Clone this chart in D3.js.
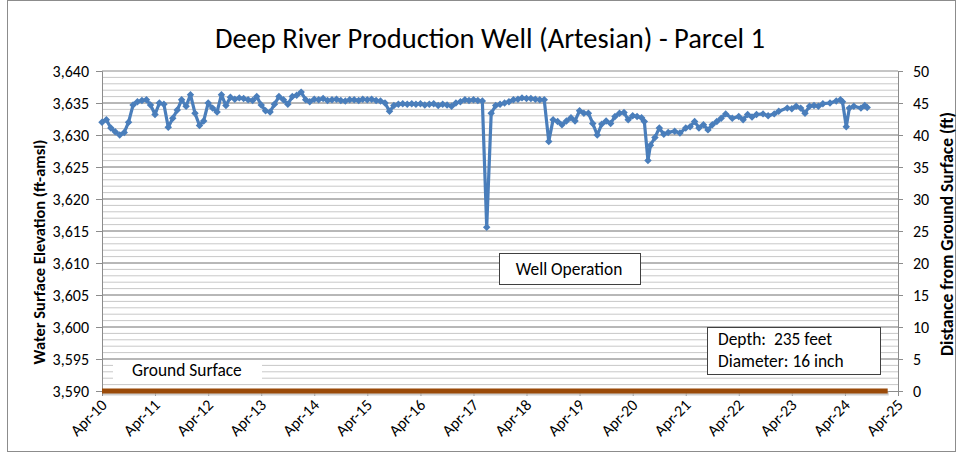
<!DOCTYPE html>
<html>
<head>
<meta charset="utf-8">
<style>
  body { margin: 0; background: #fff; }
  svg text { font-family: Carlito, Calibri, Lato, sans-serif; fill: #000; }
</style>
</head>
<body>
<svg id="chart" width="961" height="456"></svg>
<script src="https://cdn.jsdelivr.net/npm/d3@7"></script>
<script>
// Well readings:
const dates = [
  '2010-04-01','2010-05-01','2010-06-01','2010-07-01','2010-08-01','2010-09-01','2010-10-01','2010-11-01','2010-12-01',
  '2011-01-01','2011-02-01','2011-03-01','2011-04-01','2011-05-01','2011-06-01','2011-07-01','2011-08-01','2011-09-01','2011-10-01','2011-11-01','2011-12-01',
  '2012-01-01','2012-02-01','2012-03-01','2012-04-01','2012-05-01','2012-06-01','2012-07-01','2012-08-01','2012-09-01','2012-10-01','2012-11-01','2012-12-01',
  '2013-01-01','2013-02-01','2013-03-01','2013-04-01','2013-05-01','2013-06-01','2013-07-01','2013-08-01','2013-09-01','2013-10-01','2013-11-01','2013-12-01',
  '2014-01-01','2014-02-01','2014-03-01','2014-04-01','2014-05-01','2014-06-01','2014-07-01','2014-08-01','2014-09-01','2014-10-01','2014-11-01','2014-12-01',
  '2015-01-01','2015-02-01','2015-03-01','2015-04-01','2015-05-01','2015-06-01','2015-07-01','2015-08-01','2015-09-01','2015-10-01','2015-11-01','2015-12-01',
  '2016-01-01','2016-02-01','2016-03-01','2016-04-01','2016-05-01','2016-06-01','2016-07-01','2016-08-01','2016-09-01','2016-10-01','2016-11-01','2016-12-01',
  '2017-01-01','2017-02-01','2017-03-01','2017-04-01','2017-05-01','2017-06-01','2017-07-01','2017-08-01','2017-09-01','2017-10-01','2017-11-01','2017-12-01',
  '2018-01-01','2018-02-01','2018-03-01','2018-04-01','2018-05-01','2018-06-01','2018-07-01','2018-08-01','2018-09-01','2018-10-01','2018-11-01','2018-12-01',
  '2019-01-01','2019-02-01','2019-03-01','2019-04-01','2019-05-01','2019-06-01','2019-07-01','2019-08-01','2019-09-01','2019-10-01','2019-11-01','2019-12-01',
  '2020-01-01','2020-02-01','2020-03-01','2020-04-01','2020-05-01','2020-06-01','2020-06-20','2020-07-15','2020-08-01','2020-09-01','2020-10-01','2020-11-01','2020-12-01',
  '2021-01-15','2021-02-20','2021-04-01','2021-05-01','2021-06-01','2021-07-01','2021-08-01','2021-09-01','2021-10-01','2021-11-01','2021-12-01',
  '2022-01-01','2022-02-15','2022-04-01','2022-05-01','2022-06-01','2022-07-01','2022-08-01','2022-09-15','2022-10-20','2022-12-01',
  '2023-01-01','2023-03-01','2023-04-01','2023-05-01','2023-06-01','2023-07-01','2023-08-01','2023-09-01','2023-10-01','2023-11-01','2023-12-20',
  '2024-02-01','2024-03-01','2024-03-15','2024-04-10','2024-05-01','2024-06-01','2024-07-20','2024-08-15','2024-09-01'
];
const elevation = [
  3632.0,3632.4,3631.1,3630.5,3630.0,3630.4,3632.0,3634.7,3635.2,
  3635.4,3635.5,3634.7,3633.2,3635.0,3634.8,3631.2,3632.6,3633.9,3635.5,3634.5,3636.3,
  3633.4,3631.5,3632.2,3635.0,3634.2,3633.6,3636.3,3634.6,3635.9,3635.6,3635.8,3635.7,
  3635.5,3635.4,3636.0,3634.7,3633.8,3633.6,3634.8,3636.0,3635.5,3634.8,3636.0,3636.2,
  3636.7,3635.5,3635.2,3635.6,3635.5,3635.7,3635.4,3635.5,3635.6,3635.4,3635.3,3635.5,
  3635.5,3635.4,3635.6,3635.5,3635.6,3635.4,3635.3,3635.0,3633.7,3634.6,3634.8,3634.9,
  3634.8,3634.9,3634.8,3634.9,3634.7,3634.8,3634.9,3634.6,3634.8,3634.7,3634.5,3635.0,
  3635.2,3635.5,3635.4,3635.5,3635.4,3635.3,3615.6,3633.4,3634.6,3634.8,3635.0,3635.2,
  3635.5,3635.6,3635.8,3635.7,3635.7,3635.6,3635.5,3635.5,3629.0,3632.4,3632.1,3631.6,
  3632.2,3632.7,3632.2,3633.8,3633.4,3633.4,3631.8,3630.0,3631.7,3632.2,3631.8,3632.9,
  3633.4,3633.5,3632.4,3633.0,3632.9,3632.7,3632.1,3626.0,3628.4,3629.6,3631.1,3630.1,3630.4,
  3630.6,3630.3,3631.1,3631.3,3632.1,3631.1,3631.6,3630.8,3631.6,3632.1,3632.6,
  3633.3,3632.6,3632.9,3632.4,3633.2,3632.8,3633.2,3633.3,3633.0,3633.3,
  3633.7,3634.2,3634.1,3634.5,3634.2,3633.4,3634.5,3634.6,3634.5,3634.9,3635.0,
  3635.3,3635.5,3635.2,3631.3,3634.2,3634.5,3634.2,3634.6,3634.3
];

// Ground surface series:
const groundDates = ['2010-04-01', '2025-01-20'];
const groundElev = [3590, 3590];

// Axis ticks:
const leftTicks = [3590, 3595, 3600, 3605, 3610, 3615, 3620, 3625, 3630, 3635, 3640];
const rightTicks = [0, 5, 10, 15, 20, 25, 30, 35, 40, 45, 50];
const xTickDates = ['2010-04-01','2011-04-01','2012-04-01','2013-04-01','2014-04-01','2015-04-01','2016-04-01','2017-04-01',
  '2018-04-01','2019-04-01','2020-04-01','2021-04-01','2022-04-01','2023-04-01','2024-04-01','2025-04-01'];

const parse = d3.timeParse('%Y-%m-%d');
const fmt = d3.timeFormat('%b-%y');

let data = dates.map((d, i) => ({ date: parse(d), value: elevation[i] }));
let ground = groundDates.map((d, i) => ({ date: parse(d), value: groundElev[i] }));

const svg = d3.select('#chart');
const plotLeft = 102, plotRight = 898, plotTop = 71, plotBottom = 391;

let x = d3.scaleTime().domain([parse('2010-04-01'), parse('2025-04-01')]).range([plotLeft, plotRight]);
let y = d3.scaleLinear().domain([3590, 3640]).range([plotBottom, plotTop]);
let y2 = d3.scaleLinear().domain([0, 50]).range([plotBottom, plotTop]);

// Chart border:
svg.append('rect')
  .attr('x', 7.5).attr('y', 0.5).attr('width', 948).attr('height', 451)
  .attr('fill', '#fff').attr('stroke', '#8c8c8c');

// Minor gridlines every 1 ft:
svg.append('g')
  .selectAll('line')
  .data(d3.range(3591, 3640))
  .join('line')
  .attr('x1', plotLeft).attr('x2', plotRight)
  .attr('y1', d => y(d)).attr('y2', d => y(d))
  .attr('stroke', '#c8c8c8').attr('stroke-width', 1);

// Major gridlines:
svg.append('g')
  .selectAll('line')
  .data(leftTicks.slice(1))
  .join('line')
  .attr('x1', plotLeft).attr('x2', plotRight)
  .attr('y1', d => y(d)).attr('y2', d => y(d))
  .attr('stroke', '#8c8c8c').attr('stroke-width', 1);

// Left axis:
let leftAxis = svg.append('g')
  .attr('transform', `translate(${plotLeft},0)`)
  .call(d3.axisLeft(y).tickValues(leftTicks).tickSize(6).tickPadding(7).tickFormat(d3.format(',')));
leftAxis.select('.domain').attr('stroke', '#8c8c8c');
leftAxis.selectAll('.tick line').attr('stroke', '#8c8c8c');
leftAxis.selectAll('text').style('font-size', '16px').attr('font-family', null);

// Right axis:
let rightAxis = svg.append('g')
  .attr('transform', `translate(${plotRight},0)`)
  .call(d3.axisRight(y2).tickValues(rightTicks).tickSize(5).tickPadding(10));
rightAxis.select('.domain').attr('stroke', '#8c8c8c');
rightAxis.selectAll('.tick line').attr('stroke', '#8c8c8c');
rightAxis.selectAll('text').style('font-size', '16px').attr('font-family', null);

// Bottom axis:
let bottomAxis = svg.append('g')
  .attr('transform', `translate(0,${plotBottom})`)
  .call(d3.axisBottom(x).tickValues(xTickDates.map(parse)).tickSize(5).tickFormat(''));
bottomAxis.select('.domain').attr('stroke', '#8c8c8c');
bottomAxis.selectAll('.tick line').attr('stroke', '#8c8c8c');

svg.append('g')
  .selectAll('text')
  .data(xTickDates.map(parse))
  .join('text')
  .attr('transform', d => `translate(${x(d) + 6},${plotBottom + 15}) rotate(-45)`)
  .attr('text-anchor', 'end')
  .style('font-size', '16px')
  .text(d => fmt(d));

// Ground surface line with shadow:
let groundLine = d3.line().x(d => x(d.date)).y(d => y(d.value));
svg.append('path')
  .attr('d', groundLine(ground))
  .attr('transform', 'translate(1,2.5)')
  .attr('fill', 'none').attr('stroke', '#bbb').attr('stroke-width', 4).attr('opacity', 0.7);
svg.append('path')
  .attr('d', groundLine(ground))
  .attr('fill', 'none').attr('stroke', '#9a4a08').attr('stroke-width', 5);

// Well elevation line:
let line = d3.line().x(d => x(d.date)).y(d => y(d.value));
svg.append('path')
  .attr('d', line(data))
  .attr('fill', 'none')
  .attr('stroke', '#4a7ebb')
  .attr('stroke-width', 3.2)
  .attr('stroke-linejoin', 'round');

// Diamond markers:
let diamond = d3.symbol().type(d3.symbolSquare).size(28);
svg.append('g')
  .selectAll('path')
  .data(data)
  .join('path')
  .attr('d', diamond)
  .attr('transform', d => `translate(${x(d.date)},${y(d.value)}) rotate(45)`)
  .attr('fill', '#4a7ebb');

// Title:
svg.append('text')
  .attr('x', 490).attr('y', 48)
  .attr('text-anchor', 'middle')
  .style('font-size', '28.5px')
  .text('Deep River Production Well (Artesian) - Parcel 1');

// Axis titles:
svg.append('text')
  .attr('transform', 'translate(45,252) rotate(-90)')
  .attr('text-anchor', 'middle')
  .style('font-size', '16.5px').style('font-weight', 'bold')
  .text('Water Surface Elevation (ft-amsl)');

svg.append('text')
  .attr('transform', 'translate(953,234) rotate(-90)')
  .attr('text-anchor', 'middle')
  .style('font-size', '17.5px').style('font-weight', 'bold')
  .text('Distance from Ground Surface (ft)');

// Annotation boxes:
svg.append('rect')
  .attr('x', 499.5).attr('y', 253.5).attr('width', 141).attr('height', 31)
  .attr('fill', '#fff').attr('stroke', '#404040');
svg.append('text')
  .attr('x', 569).attr('y', 275)
  .attr('text-anchor', 'middle')
  .style('font-size', '17.4px')
  .text('Well Operation');

svg.append('rect')
  .attr('x', 113).attr('y', 361).attr('width', 149).attr('height', 19)
  .attr('fill', '#fff');
svg.append('text')
  .attr('x', 132).attr('y', 376)
  .style('font-size', '17.4px')
  .text('Ground Surface');

svg.append('rect')
  .attr('x', 707.5).attr('y', 327.5).attr('width', 173).attr('height', 47)
  .attr('fill', '#fff').attr('stroke', '#404040');
svg.append('text')
  .attr('x', 718).attr('y', 345)
  .style('font-size', '17.4px')
  .attr('xml:space', 'preserve')
  .text('Depth:  235 feet');
svg.append('text')
  .attr('x', 718).attr('y', 367)
  .style('font-size', '17.4px')
  .text('Diameter: 16 inch');
</script>
</body>
</html>
